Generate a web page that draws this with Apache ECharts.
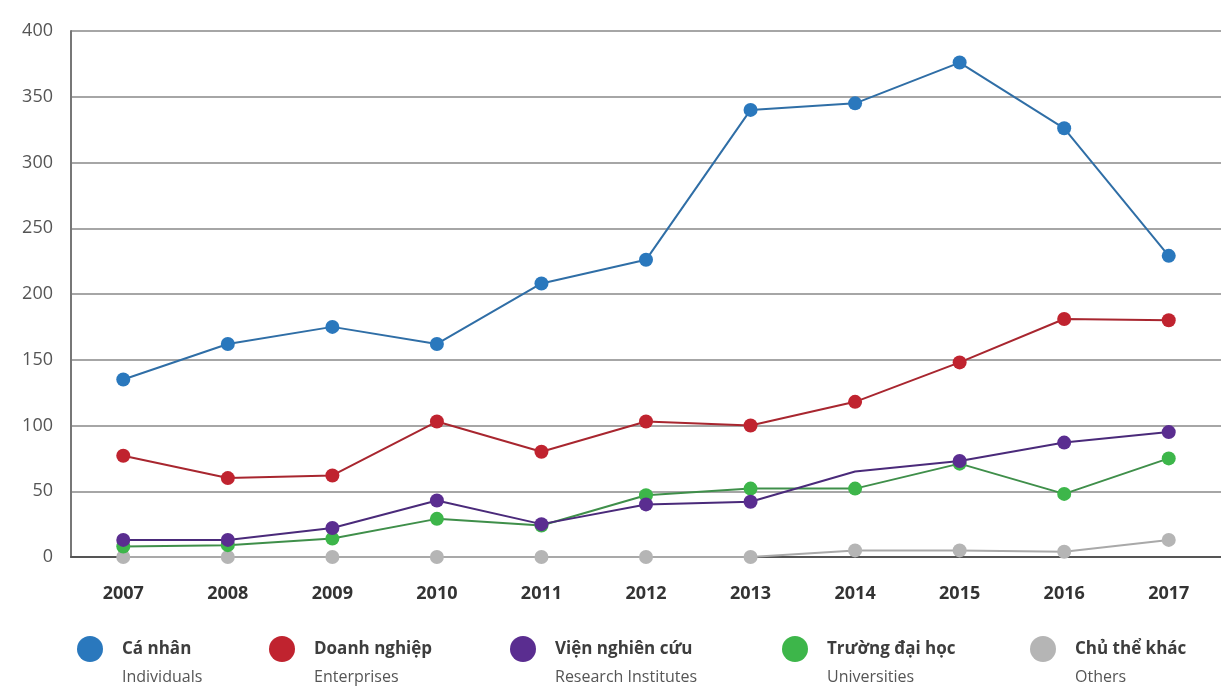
<!DOCTYPE html>
<html>
<head>
<meta charset="utf-8">
<style>
  html, body { margin: 0; padding: 0; background: #ffffff; }
  #chart { width: 1221px; height: 686px; }
</style>
<script src="https://cdn.jsdelivr.net/npm/echarts@6/dist/echarts.min.js"></script>
</head>
<body>
<div id="chart"></div>
<script>
// Years on the x axis
const years = ['2007', '2008', '2009', '2010', '2011', '2012', '2013', '2014', '2015', '2016', '2017'];

// Counts per applicant type
const individuals = [135, 162, 175, 162, 208, 226, 340, 345, 376, 326, 229];
const enterprises = [77, 60, 62, 103, 80, 103, 100, 118, 148, 181, 180];
const institutes = [13, 13, 22, 43, 25, 40, 42, 65, 73, 87, 95];
const universities = [8, 9, 14, 29, 24, 47, 52, 52, 71, 48, 75];
const others = [0, 0, 0, 0, 0, 0, 0, 5, 5, 4, 13];

// Legend names: Vietnamese title and English subtitle
const namesVi = ['Cá nhân', 'Doanh nghiệp', 'Viện nghiên cứu', 'Trường đại học', 'Chủ thể khác'];
const namesEn = ['Individuals', 'Enterprises', 'Research Institutes', 'Universities', 'Others'];

const yTicks = [0, 50, 100, 150, 200, 250, 300, 350, 400];

const colors = ['#2a78bd', '#c0232f', '#5a2d90', '#3db64a', '#b5b5b5'];
const lineColors = ['#2f6ea6', '#a8262f', '#4a2a7a', '#3f8f4a', '#a9a9a9'];
const seriesData = [individuals, enterprises, institutes, universities, others];
const legendLeft = [77, 269, 510, 782, 1030];

const font = '"Open Sans", "Noto Sans", sans-serif';

const chart = echarts.init(document.getElementById('chart'), null, { renderer: 'canvas' });

const series = seriesData.map((vals, i) => ({
  name: namesVi[i],
  type: 'line',
  // the institutes line has no dot at 2014
  data: vals.map((v, k) => (i === 2 && k === 7) ? { value: v, symbolSize: 0 } : v),
  symbol: 'circle',
  symbolSize: 14,
  z: 10 - i,
  itemStyle: { color: colors[i] },
  lineStyle: { color: lineColors[i], width: 2 },
  emphasis: { disabled: true }
}));

const legends = namesVi.map((n, i) => ({
  data: [n],
  left: legendLeft[i],
  top: 614,
  padding: 0,
  icon: 'circle',
  itemWidth: 26,
  itemHeight: 26,
  itemGap: 0,
  selectedMode: false,
  formatter: name => '{s| }\n{a|' + name + '}\n{b|' + namesEn[i] + '}',
  textStyle: {
    padding: [0, 0, 0, 14],
    rich: {
      s: { fontSize: 14, lineHeight: 28, fontFamily: font },
      a: { fontSize: 17, lineHeight: 28, fontWeight: 'bold', color: '#3d3d3d', fontFamily: font },
      b: { fontSize: 16, lineHeight: 28, color: '#555555', fontFamily: font }
    }
  }
}));

chart.setOption({
  backgroundColor: '#ffffff',
  animation: false,
  grid: { left: 71, right: -8, top: 31, bottom: 129, containLabel: false },
  legend: legends,
  xAxis: {
    type: 'category',
    data: years,
    boundaryGap: true,
    axisLine: { show: true, lineStyle: { color: '#555555', width: 2 } },
    axisTick: { show: false },
    axisLabel: { margin: 28, fontSize: 18, fontWeight: 'bold', color: '#333333', fontFamily: font }
  },
  yAxis: {
    type: 'value',
    min: yTicks[0],
    max: yTicks[yTicks.length - 1],
    interval: 50,
    axisLine: { show: true, lineStyle: { color: '#777777', width: 2 } },
    axisTick: { show: false },
    axisLabel: { margin: 18, fontSize: 18, color: '#555555', fontFamily: font },
    splitLine: { show: true, lineStyle: { color: '#888888', width: 1.5 } }
  },
  series: series
});
</script>
</body>
</html>
